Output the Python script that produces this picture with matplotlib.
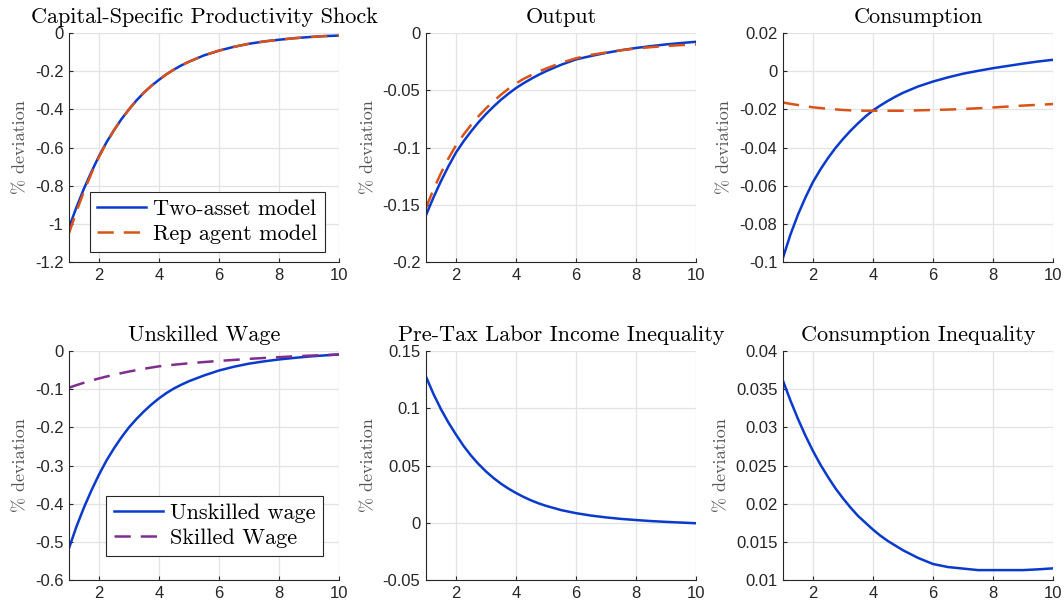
import matplotlib.pyplot as plt

# quarters after the shock (finer spacing where the responses bend most)
t = [1, 1.25, 1.5, 1.75, 2, 2.25, 2.5, 2.75, 3, 3.25, 3.5, 3.75, 4, 4.25, 4.5, 4.75, 5,
     5.5, 6, 6.5, 7, 7.5, 8, 8.5, 9, 9.5, 10]

shock_two = [-1.02, -0.913, -0.815, -0.727, -0.645, -0.573, -0.509, -0.451, -0.40, -0.353,
             -0.312, -0.276, -0.245, -0.216, -0.191, -0.169, -0.15,
             -0.117, -0.092, -0.072, -0.056, -0.044, -0.035, -0.027, -0.021, -0.016, -0.013]
shock_rep = [-1.05, -0.935, -0.83, -0.735, -0.65, -0.575, -0.51, -0.452, -0.40, -0.353,
             -0.312, -0.276, -0.245, -0.216, -0.191, -0.169, -0.15,
             -0.117, -0.092, -0.072, -0.056, -0.044, -0.035, -0.027, -0.021, -0.016, -0.013]

output_two = [-0.159, -0.1435, -0.1292, -0.1162, -0.1043, -0.0946, -0.0859, -0.0779, -0.0707,
              -0.0642, -0.0582, -0.0529, -0.048, -0.0438, -0.040, -0.0365, -0.0333,
              -0.0277, -0.023, -0.020, -0.0173, -0.015, -0.013, -0.0114, -0.0099, -0.0087, -0.0076]
output_rep = [-0.1525, -0.1365, -0.1222, -0.1094, -0.098, -0.0887, -0.0802, -0.0726, -0.0657,
              -0.0594, -0.0538, -0.0486, -0.044, -0.040, -0.0368, -0.0337, -0.031,
              -0.026, -0.022, -0.019, -0.017, -0.015, -0.0135, -0.0123, -0.0113, -0.0105, -0.0099]

cons_two = [-0.0977, -0.0855, -0.0751, -0.0661, -0.058, -0.0514, -0.0455, -0.0402, -0.0355,
            -0.0312, -0.0273, -0.0237, -0.0205, -0.0179, -0.0155, -0.0133, -0.0113,
            -0.008, -0.0054, -0.0032, -0.0013, 0.0002, 0.0016, 0.0028, 0.004, 0.0051, 0.006]
cons_rep = [-0.0164, -0.0171, -0.0177, -0.0183, -0.0189, -0.0193, -0.0197, -0.0200, -0.0203,
            -0.0205, -0.0206, -0.0207, -0.0207, -0.0207, -0.0207, -0.0207, -0.0207,
            -0.0205, -0.0203, -0.0201, -0.0198, -0.0194, -0.019, -0.0185, -0.018, -0.0176, -0.0172]

wage_unskilled = [-0.517, -0.46, -0.41, -0.365, -0.324, -0.287, -0.255, -0.226, -0.20, -0.178,
                  -0.158, -0.14, -0.124, -0.11, -0.098, -0.088, -0.079,
                  -0.064, -0.051, -0.041, -0.033, -0.027, -0.022, -0.018, -0.0143, -0.0115, -0.009]
wage_skilled = [-0.096, -0.0893, -0.083, -0.0772, -0.0718, -0.0668, -0.0621, -0.0578, -0.0537,
                -0.05, -0.0465, -0.0432, -0.040, -0.0378, -0.0358, -0.0339, -0.032,
                -0.0288, -0.0258, -0.0232, -0.0205, -0.0181, -0.016, -0.0138, -0.0121, -0.0105, -0.009]

labor_ineq = [0.1275, 0.1124, 0.0991, 0.0874, 0.077, 0.0672, 0.0587, 0.0513, 0.0448, 0.0391,
              0.0341, 0.0298, 0.026, 0.0226, 0.0196, 0.017, 0.0148,
              0.0111, 0.0084, 0.0063, 0.0047, 0.0034, 0.0024, 0.0015, 0.0008, 0.0002, -0.0004]

cons_ineq = [0.0361, 0.0335, 0.0311, 0.0289, 0.0269, 0.0251, 0.0235, 0.022, 0.0207, 0.0195,
             0.0184, 0.0175, 0.0166, 0.0158, 0.0151, 0.0145, 0.0139,
             0.0129, 0.0121, 0.0117, 0.0115, 0.0113, 0.0113, 0.0113, 0.0113, 0.0114, 0.01153]

titles = ['Capital-Specific Productivity Shock', 'Output', 'Consumption',
          'Unskilled Wage', 'Pre-Tax Labor Income Inequality', 'Consumption Inequality']
ylims = [(-1.2, 0), (-0.2, 0), (-0.1, 0.02), (-0.6, 0), (-0.05, 0.15), (0.01, 0.04)]
yticks = [[-1.2, -1, -0.8, -0.6, -0.4, -0.2, 0],
          [-0.2, -0.15, -0.1, -0.05, 0],
          [-0.1, -0.08, -0.06, -0.04, -0.02, 0, 0.02],
          [-0.6, -0.5, -0.4, -0.3, -0.2, -0.1, 0],
          [-0.05, 0, 0.05, 0.1, 0.15],
          [0.01, 0.015, 0.02, 0.025, 0.03, 0.035, 0.04]]
ytick_labels = [['-1.2', '-1', '-0.8', '-0.6', '-0.4', '-0.2', '0'],
                ['-0.2', '-0.15', '-0.1', '-0.05', '0'],
                ['-0.1', '-0.08', '-0.06', '-0.04', '-0.02', '0', '0.02'],
                ['-0.6', '-0.5', '-0.4', '-0.3', '-0.2', '-0.1', '0'],
                ['-0.05', '0', '0.05', '0.1', '0.15'],
                ['0.01', '0.015', '0.02', '0.025', '0.03', '0.035', '0.04']]

BLUE = '#0a3acc'
RED = '#d95319'
PURPLE = '#7e2f8e'
SERIF = 'cmr10'
DASH = (0, (6.5, 4))

plt.rcParams['axes.unicode_minus'] = False
plt.rcParams['font.family'] = ['Liberation Sans', 'DejaVu Sans']

fig = plt.figure(figsize=(10.64, 6.08), dpi=100)

lefts = [0.0648, 0.4004, 0.7359]
bottoms = [0.569, 0.046]
w, h = 0.2538, 0.3766

axes = []
for r in range(2):
    for c in range(3):
        ax = fig.add_axes([lefts[c], bottoms[r], w, h])
        axes.append(ax)

for i, ax in enumerate(axes):
    ax.set_xlim(1, 10)
    ax.set_ylim(*ylims[i])
    ax.set_xticks([2, 4, 6, 8, 10])
    ax.set_yticks(yticks[i])
    ax.set_yticklabels(ytick_labels[i])
    ax.grid(True, color='#e3e3e3', linewidth=0.9)
    ax.set_axisbelow(True)
    for s in ['top', 'right']:
        ax.spines[s].set_visible(False)
    for s in ['left', 'bottom']:
        ax.spines[s].set_color('#262626')
        ax.spines[s].set_linewidth(0.8)
    ax.tick_params(direction='in', length=3, width=0.8, colors='#262626',
                   labelsize=12, pad=4)
    ax.set_title(titles[i], family=SERIF, fontsize=16, pad=7.5)
    ax.set_ylabel('% deviation', family=SERIF, fontsize=13, color='#555555', labelpad=5)

lw = 1.8
leg_style = dict(prop={'family': SERIF, 'size': 16}, frameon=True, fancybox=False,
                 edgecolor='#262626', framealpha=1, handlelength=2.2,
                 borderpad=0.35, labelspacing=0.25, handletextpad=0.3, borderaxespad=0)

axes[0].plot(t, shock_two, color=BLUE, lw=lw, label='Two-asset model')
axes[0].plot(t, shock_rep, color=RED, lw=lw, ls=DASH, label='Rep agent model')
axes[0].legend(loc='lower right', bbox_to_anchor=(0.948, 0.044),
               **leg_style).get_frame().set_linewidth(0.8)

axes[1].plot(t, output_two, color=BLUE, lw=lw)
axes[1].plot(t, output_rep, color=RED, lw=lw, ls=DASH)

axes[2].plot(t, cons_two, color=BLUE, lw=lw)
axes[2].plot(t, cons_rep, color=RED, lw=lw, ls=DASH)

axes[3].plot(t, wage_unskilled, color=BLUE, lw=lw, label='Unskilled wage')
axes[3].plot(t, wage_skilled, color=PURPLE, lw=lw, ls=DASH, label='Skilled Wage')
axes[3].legend(loc='lower right', bbox_to_anchor=(0.941, 0.105),
               **leg_style).get_frame().set_linewidth(0.8)

axes[4].plot(t, labor_ineq, color=BLUE, lw=lw)
axes[5].plot(t, cons_ineq, color=BLUE, lw=lw)

plt.savefig('out.png', dpi=100)
